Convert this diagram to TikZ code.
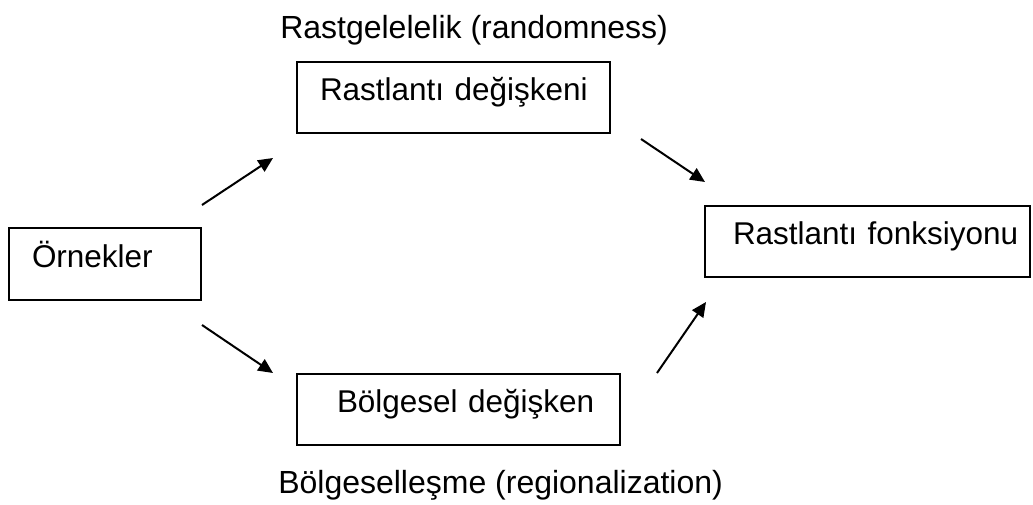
\documentclass[tikz,border=0pt]{standalone}
\usepackage{fontspec}
\setmainfont{Liberation Sans}
\usetikzlibrary{arrows.meta}

\begin{document}
\begin{tikzpicture}[x=0.75pt, y=-0.75pt,
            every node/.style = {font=\fontsize{23.6}{28}\selectfont},
            box/.style 2 args = {draw, rectangle, line width=1.5pt, inner xsep=0pt, inner ysep=0pt,
                text width=#1, minimum height=53.5pt, align=left,
                text height=17pt, text depth=12pt,
                execute at begin node={\hspace*{#2}}},
            lbl/.style = {anchor=base west, inner sep=0pt, font=\fontsize{24}{28}\selectfont},
            arr/.style = {line width=1.5pt, -{Triangle[length=11pt, width=10pt]}}
            ]
            \useasboundingbox (0,0) rectangle (1033,504);
            \node[box={144pt}{17.25pt}] (ornek) at (105,264) {Örnekler};
            \node[box={234.75pt}{17.25pt}] (degisken) at (453.5,97.5) {Rastlantı değişkeni};
            \node[box={242.25pt}{30pt}] (bolgesel) at (458.5,409.5) {Bölgesel değişken};
            \node[box={243.75pt}{21pt}] (fonksiyon) at (867.5,241.5) {Rastlantı fonksiyonu};
            \node[lbl] (rastgele) at (280,38) {Rastgelelelik (randomness)};
            \node[lbl] (bolgeleme) at (278,493) {Bölgeselleşme (regionalization)};
            \coordinate (a1s) at (202,205);
            \coordinate (a1e) at (273,158);
            \coordinate (a2s) at (202,325);
            \coordinate (a2e) at (273,373);
            \coordinate (a3s) at (641,139);
            \coordinate (a3e) at (705,182);
            \coordinate (a4s) at (657,373);
            \coordinate (a4e) at (706,302);
            \draw[arr] (a1s) -- (a1e);
            \draw[arr] (a2s) -- (a2e);
            \draw[arr] (a3s) -- (a3e);
            \draw[arr] (a4s) -- (a4e);
\end{tikzpicture}
\end{document}
